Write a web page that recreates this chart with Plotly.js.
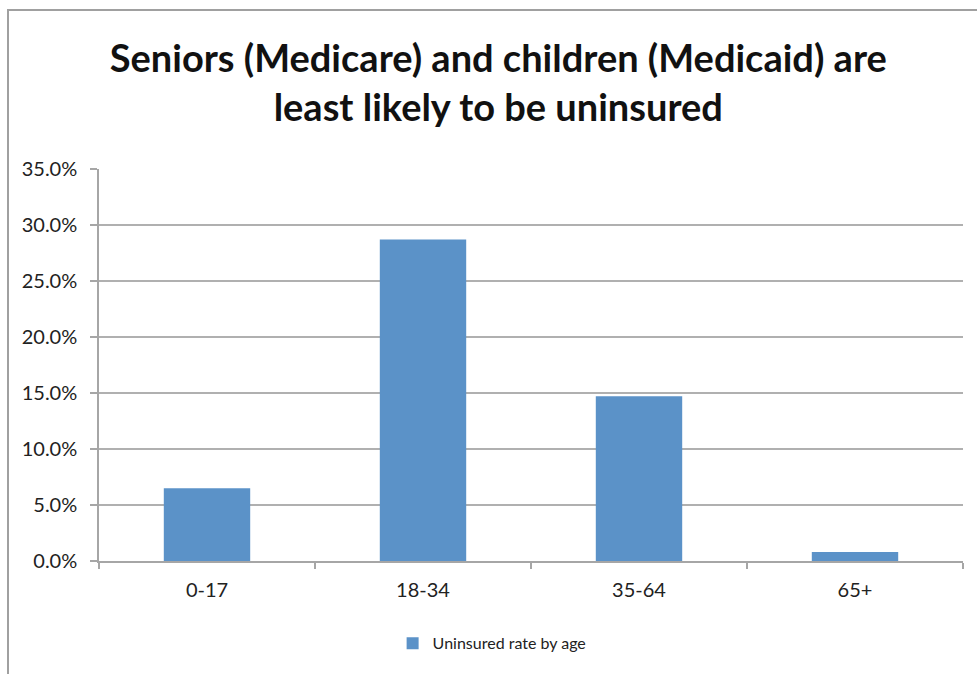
<!DOCTYPE html>
<html>
<head>
<meta charset="utf-8">
<script src="https://cdn.plot.ly/plotly-3.0.1.min.js"></script>
<style>
  html, body { margin: 0; padding: 0; background: #fff; }
  #wrap { position: relative; width: 977px; height: 674px; }
  #chart { position: absolute; left: 0; top: 0; width: 977px; height: 674px; }
  #frame { position: absolute; left: 7px; top: 9px; width: 980px; height: 680px;
           border-left: 2px solid #a0a0a0; border-top: 2px solid #a0a0a0; pointer-events: none; }
</style>
</head>
<body>
<div id="wrap">
  <div id="chart"></div>
  <div id="frame"></div>
</div>
<script>
// Uninsured rate by age group (fraction of population)
const ageGroups = ['0-17', '18-34', '35-64', '65+'];
const uninsuredRate = [0.065, 0.287, 0.147, 0.008];
const seriesName = 'Uninsured rate by age';
const yTickVals = [0, 0.05, 0.10, 0.15, 0.20, 0.25, 0.30, 0.35];

const trace = {
  type: 'bar',
  x: ageGroups,
  y: uninsuredRate,
  name: seriesName,
  marker: { color: '#5b92c8', line: { width: 0 } },
  showlegend: true,
  hoverinfo: 'x+y'
};

const layout = {
  width: 977,
  height: 674,
  margin: { l: 99, r: 14, t: 169, b: 113 },
  paper_bgcolor: 'rgba(0,0,0,0)',
  plot_bgcolor: '#ffffff',
  font: { family: 'Lato, "Open Sans", sans-serif', color: '#222' },
  title: {
    text: 'Seniors (Medicare) and children (Medicaid) are<br>least likely to be uninsured',
    font: { family: 'Lato, "Open Sans", sans-serif', size: 38, color: '#111', weight: 'bold' },
    xref: 'container', x: 0.51, xanchor: 'center',
    yref: 'container', y: 1 - 72 / 674, yanchor: 'top'
  },
  bargap: 0.6,
  xaxis: {
    type: 'category',
    showline: true, linecolor: '#a6a6a6', linewidth: 1.5,
    ticks: 'outside', tickson: 'boundaries', ticklen: 6, tickcolor: '#a6a6a6', tickwidth: 1.5,
    ticklabelstandoff: 10,
    showgrid: false,
    tickfont: { size: 20, color: '#222' },
    fixedrange: true
  },
  yaxis: {
    range: [0, 0.35],
    tickvals: yTickVals,
    tickformat: '.1%',
    showline: true, linecolor: '#a6a6a6', linewidth: 1.5,
    ticks: 'outside', ticklen: 7, tickcolor: '#a6a6a6', tickwidth: 1.5,
    ticklabelstandoff: 9,
    showgrid: true, gridcolor: '#b0b0b0', gridwidth: 1.5,
    zeroline: false,
    tickfont: { size: 20, color: '#222' },
    fixedrange: true
  },
  legend: {
    orientation: 'h',
    x: 0.455, xanchor: 'center',
    y: -0.21, yanchor: 'middle',
    font: { size: 16, color: '#222' },
    itemwidth: 30
  }
};

Plotly.newPlot('chart', [trace], layout, { displayModeBar: false, staticPlot: false });
</script>
</body>
</html>
